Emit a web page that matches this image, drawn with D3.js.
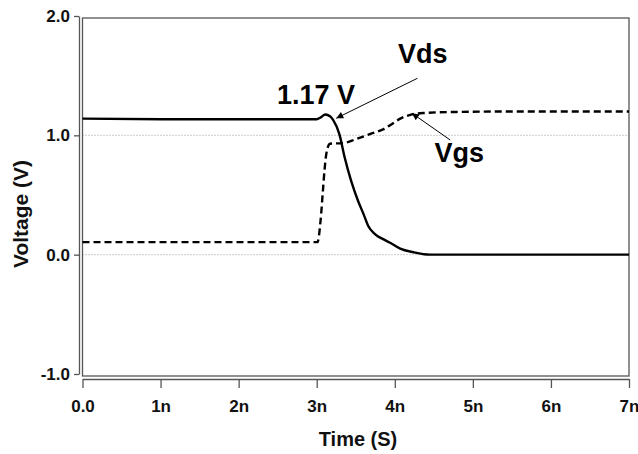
<!DOCTYPE html>
<html>
<head>
<meta charset="utf-8">
<script src="https://cdn.jsdelivr.net/npm/d3@7"></script>
<style>
  body { margin: 0; background: #fff; }
  svg text { font-family: "Liberation Sans", Arial, Helvetica, sans-serif; font-weight: bold; }
</style>
</head>
<body>
<div id="container"></div>
<script>
var WIDTH = 638,
    HEIGHT = 454;

// time in ns, voltage in V
var xTicks = [0, 1, 2, 3, 4, 5, 6, 7],
    xTickLabels = ['0.0', '1n', '2n', '3n', '4n', '5n', '6n', '7n'],
    yTicks = [-1, 0, 1, 2],
    yTickLabels = ['-1.0', '0.0', '1.0', '2.0'],
    gridValues = [0, 1];

var vdsTime = [0, 1.2, 3.0, 3.05, 3.11, 3.17, 3.21, 3.29, 3.36, 3.44, 3.53, 3.60, 3.66, 3.75, 3.85, 3.94, 4.07, 4.24, 4.45, 5.0, 7.0],
    vdsVolt = [1.14, 1.135, 1.135, 1.15, 1.175, 1.16, 1.13, 1.01, 0.81, 0.62, 0.45, 0.34, 0.24, 0.17, 0.13, 0.10, 0.05, 0.02, 0.0, 0.0, 0.0];

var vgsTime = [0, 3.01, 3.05, 3.08, 3.10, 3.13, 3.17, 3.34, 3.51, 3.68, 3.85, 3.94, 4.07, 4.22, 4.37, 4.79, 5.48, 7.0],
    vgsVolt = [0.105, 0.105, 0.29, 0.54, 0.71, 0.87, 0.93, 0.935, 0.97, 1.01, 1.05, 1.085, 1.14, 1.175, 1.187, 1.196, 1.2, 1.2];

// annotation text and arrows, in data units
var labels = [
  {text: 'Vds', t: 4.04, v: 1.606},
  {text: '1.17 V', t: 2.49, v: 1.263},
  {text: 'Vgs', t: 4.51, v: 0.777}
];
var arrows = [
  {t1: 4.29, v1: 1.478, t2: 3.25, v2: 1.143},
  {t1: 4.71, v1: 0.961, t2: 4.22, v2: 1.185}
];

var x = d3.scaleLinear().domain([0, 7]).range([82.5, 629]),
    y = d3.scaleLinear().domain([-1, 2]).range([374, 16]);

var svg = d3.select('#container').append('svg')
    .attr('width', WIDTH)
    .attr('height', HEIGHT);

svg.append('defs').append('marker')
    .attr('id', 'head')
    .attr('viewBox', '0 0 10 10')
    .attr('refX', 10)
    .attr('refY', 5)
    .attr('markerWidth', 9)
    .attr('markerHeight', 7)
    .attr('markerUnits', 'userSpaceOnUse')
    .attr('orient', 'auto')
  .append('path')
    .attr('d', 'M0,0L10,5L0,10z')
    .attr('fill', '#000');

// grid lines
svg.selectAll('line.grid')
  .data(gridValues)
  .enter()
  .append('line')
    .attr('class', 'grid')
    .attr('x1', x(0))
    .attr('x2', x(7))
    .attr('y1', function(d) { return y(d); })
    .attr('y2', function(d) { return y(d); })
    .attr('stroke', '#999')
    .attr('stroke-width', 1)
    .attr('stroke-dasharray', '1,2');

// plot frame
svg.append('rect')
    .attr('x', x(0))
    .attr('y', y(2) + 2)
    .attr('width', x(7) - x(0))
    .attr('height', y(-1) - y(2))
    .attr('fill', 'none')
    .attr('stroke', '#555')
    .attr('stroke-width', 1.3);

// axes, set off from the frame
var xAxis = svg.append('g')
    .attr('transform', 'translate(0,' + (y(-1) + 5) + ')')
    .call(d3.axisBottom(x)
      .tickValues(xTicks)
      .tickFormat(function(d, i) { return xTickLabels[i]; })
      .tickSize(9)
      .tickSizeOuter(0)
      .tickPadding(12));

var yAxis = svg.append('g')
    .attr('transform', 'translate(' + (x(0) - 3.5) + ',0)')
    .call(d3.axisLeft(y)
      .tickValues(yTicks)
      .tickFormat(function(d, i) { return yTickLabels[i]; })
      .tickSize(5)
      .tickSizeOuter(0)
      .tickPadding(4));

[xAxis, yAxis].forEach(function(a) {
  a.select('.domain').attr('stroke', '#555').attr('stroke-width', 1.3);
  a.selectAll('.tick line').attr('stroke', '#555').attr('stroke-width', 1.3);
  a.selectAll('.tick text')
    .attr('fill', '#111')
    .style('font-size', '17px')
    .style('font-family', '"Liberation Sans", Arial, sans-serif')
    .style('font-weight', 'bold');
});

// axis titles
svg.append('text')
    .attr('x', 358)
    .attr('y', 446)
    .attr('text-anchor', 'middle')
    .style('font-size', '20px')
    .attr('fill', '#111')
    .text('Time (S)');

svg.append('text')
    .attr('transform', 'translate(28,' + 214 + ') rotate(-90)')
    .attr('text-anchor', 'middle')
    .style('font-size', '21px')
    .attr('fill', '#111')
    .text('Voltage (V)');

// curves
var line = d3.line()
    .x(function(d) { return x(d[0]); })
    .y(function(d) { return y(d[1]); })
    .curve(d3.curveMonotoneX);

var vds = d3.zip(vdsTime, vdsVolt),
    vgs = d3.zip(vgsTime, vgsVolt);

svg.append('path')
    .datum(vgs)
    .attr('d', line)
    .attr('fill', 'none')
    .attr('stroke', '#000')
    .attr('stroke-width', 2.4)
    .attr('stroke-dasharray', '7,4');

svg.append('path')
    .datum(vds)
    .attr('d', line)
    .attr('fill', 'none')
    .attr('stroke', '#000')
    .attr('stroke-width', 2.4);

// annotations
svg.selectAll('line.arrow')
  .data(arrows)
  .enter()
  .append('line')
    .attr('class', 'arrow')
    .attr('x1', function(d) { return x(d.t1); })
    .attr('y1', function(d) { return y(d.v1); })
    .attr('x2', function(d) { return x(d.t2); })
    .attr('y2', function(d) { return y(d.v2); })
    .attr('stroke', '#000')
    .attr('stroke-width', 1)
    .attr('marker-end', 'url(#head)');

svg.selectAll('text.note')
  .data(labels)
  .enter()
  .append('text')
    .attr('class', 'note')
    .attr('x', function(d) { return x(d.t); })
    .attr('y', function(d) { return y(d.v); })
    .style('font-size', '27px')
    .attr('fill', '#000')
    .text(function(d) { return d.text; });
</script>
</body>
</html>
